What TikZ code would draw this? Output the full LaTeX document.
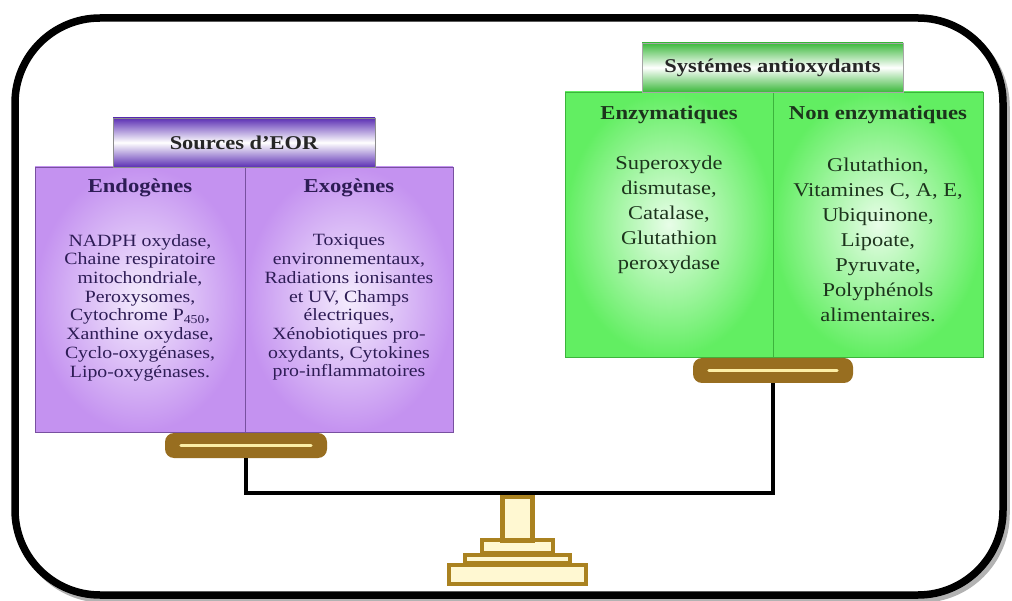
\documentclass[tikz,border=0pt]{standalone}
\usepackage{fontspec}
\setmainfont{Liberation Serif}[FakeStretch=1.15]
\usepackage{tikz}
\usetikzlibrary{calc,backgrounds}
\definecolor{eorpurple}{RGB}{196,146,240}
\definecolor{eorglow}{RGB}{244,236,253}
\definecolor{eorline}{RGB}{120,80,160}
\definecolor{eordark}{RGB}{92,48,180}
\definecolor{eortext}{RGB}{45,28,85}
\definecolor{aoxgreen}{RGB}{98,238,98}
\definecolor{aoxglow}{RGB}{232,253,232}
\definecolor{aoxline}{RGB}{60,180,60}
\definecolor{aoxdark}{RGB}{60,185,60}
\definecolor{aoxtext}{RGB}{28,52,28}
\definecolor{platbrown}{RGB}{152,110,32}
\definecolor{platcream}{RGB}{252,238,165}
\definecolor{standgold}{RGB}{170,130,32}
\definecolor{standcream}{RGB}{255,248,210}

\begin{document}
\begin{tikzpicture}[x=1pt,y=-1pt,
  frame/.style={line width=7.5pt,rounded corners=85pt},
  eorcol/.style={draw=eorline,line width=0.8pt,inner color=eorglow,outer color=eorpurple,minimum height=265pt,inner sep=0pt},
  aoxcol/.style={draw=aoxline,line width=0.8pt,inner color=aoxglow,outer color=aoxgreen,minimum height=265pt,inner sep=0pt},
  eorhdr/.style={draw=black!45,line width=0.6pt,top color=eordark,bottom color=eordark,middle color=white,minimum width=262pt,minimum height=49pt,inner sep=0pt,font=\fontsize{19.5}{22}\selectfont\bfseries,text=black!85},
  aoxhdr/.style={draw=black!35,line width=0.6pt,top color=aoxdark,bottom color=aoxdark,middle color=white,minimum width=261pt,minimum height=49pt,inner sep=0pt,font=\fontsize{19.5}{22}\selectfont\bfseries,text=black!85},
  eorhead/.style={font=\fontsize{19.7}{22}\selectfont\bfseries,text=eortext},
  aoxhead/.style={font=\fontsize{19.7}{22}\selectfont\bfseries,text=aoxtext},
  eortxt/.style={align=center,font=\fontsize{17.2}{18.7}\selectfont,text=eortext},
  aoxtxt/.style={align=center,font=\fontsize{19.5}{25}\selectfont,text=aoxtext},
  plat/.style={fill=platbrown,rounded corners=9pt,minimum height=25pt,inner sep=0pt},
  stripe/.style={draw=platcream,line width=3pt,line cap=round},
  beam/.style={line width=4pt,line join=miter},
  tierbox/.style={draw=standgold,fill=standcream,line width=4pt,inner sep=0pt}]
\useasboundingbox (0,0) rectangle (1012,601);
\fill[white] (0,0) rectangle (1012,601);
\draw[frame,black!30] (19,22) rectangle (1006,599);
\fill[white,rounded corners=85pt] (15,18) rectangle (1003,595);
\draw[frame] (15,18) rectangle (1003,595);

\node[eorcol,minimum width=210pt] (endo) at (140,299.5) {};
\node[eorcol,minimum width=208pt] (exo) at (349,299.5) {};
\draw[eorline,line width=1pt] (endo.north east) -- (endo.south east);
\node[eorhdr] (sources) at (244,142.5) {Sources d'EOR};
\node[eorhead] (endot) at (140,188) {Endogènes};
\node[eorhead] (exot) at (349,188) {Exogènes};
\node[eortxt] (endol) at (140,307.5) {NADPH oxydase,\\Chaine respiratoire\\mitochondriale,\\Peroxysomes,\\Cytochrome P\textsubscript{450},\\Xanthine oxydase,\\Cyclo-oxygénases,\\Lipo-oxygénases.};
\node[eortxt] (exol) at (349,307.5) {Toxiques\\environnementaux,\\Radiations ionisantes\\et UV, Champs\\électriques,\\Xénobiotiques pro-\\oxydants, Cytokines\\pro-inflammatoires};

\node[aoxcol,minimum width=208pt] (enz) at (669,224.5) {};
\node[aoxcol,minimum width=210pt] (nonenz) at (878,224.5) {};
\draw[aoxline,line width=1pt] (enz.north east) -- (enz.south east);
\node[aoxhdr] (systemes) at (772.5,67.5) {Systémes antioxydants};
\node[aoxhead] (enzt) at (669,115) {Enzymatiques};
\node[aoxhead] (nonenzt) at (878,115) {Non enzymatiques};
\node[aoxtxt] (enzl) at (669,215) {Superoxyde\\dismutase,\\Catalase,\\Glutathion\\peroxydase};
\node[aoxtxt] (nonenzl) at (878,240) {Glutathion,\\Vitamines C, A, E,\\Ubiquinone,\\Lipoate,\\Pyruvate,\\Polyphénols\\alimentaires.};

\node[plat,minimum width=162pt] (lplat) at (246,445.5) {};
\draw[stripe] ([xshift=16pt]lplat.west) -- ([xshift=-16pt]lplat.east);
\node[plat,minimum width=160pt] (rplat) at (773,370.5) {};
\draw[stripe] ([xshift=16pt]rplat.west) -- ([xshift=-16pt]rplat.east);

\node[tierbox,minimum width=137pt,minimum height=19pt] (tierc) at (517.5,574.5) {};
\node[tierbox,minimum width=105pt,minimum height=8pt] (tierb) at (517.5,559) {};
\node[tierbox,minimum width=71pt,minimum height=13pt] (tiera) at (517.5,546.5) {};
\node[tierbox,line width=5pt,minimum width=30pt,minimum height=44pt] (pillar) at (517.5,518) {};
\coordinate (hinge) at (517.5,493);
\draw[beam] (lplat.south) |- (hinge) -| (rplat.south);
\end{tikzpicture}
\end{document}
